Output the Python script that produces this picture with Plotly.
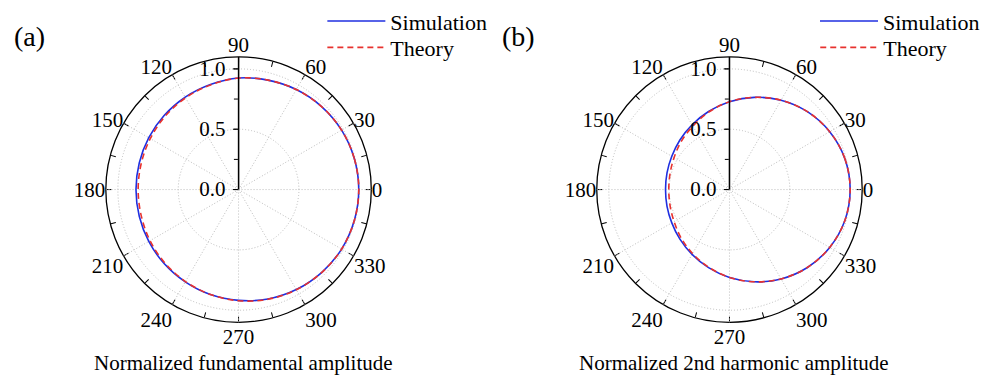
import plotly.graph_objects as go

# ---------------- data ----------------
theta = [0, 15, 30, 45, 60, 75, 90, 105, 120, 135, 150, 165, 180,
         195, 210, 225, 240, 255, 270, 285, 300, 315, 330, 345, 360]

fund_sim = [0.996, 0.993, 0.986, 0.973, 0.957, 0.939, 0.925, 0.901, 0.884, 0.870, 0.859, 0.852, 0.850,
            0.852, 0.859, 0.870, 0.884, 0.901, 0.918, 0.939, 0.957, 0.973, 0.986, 0.993, 0.996]
fund_theory = [0.996, 0.993, 0.986, 0.973, 0.957, 0.939, 0.924, 0.898, 0.878, 0.860, 0.845, 0.835, 0.832,
               0.835, 0.847, 0.862, 0.880, 0.900, 0.921, 0.941, 0.958, 0.973, 0.986, 0.993, 0.996]

harm_sim = [1.000, 0.990, 0.959, 0.913, 0.855, 0.791, 0.728, 0.670, 0.620, 0.581, 0.552, 0.536, 0.530,
            0.536, 0.552, 0.581, 0.620, 0.670, 0.728, 0.791, 0.855, 0.913, 0.959, 0.990, 1.000]
harm_theory = [1.000, 0.990, 0.959, 0.913, 0.855, 0.791, 0.728, 0.665, 0.607, 0.565, 0.530, 0.510, 0.503,
               0.510, 0.530, 0.567, 0.612, 0.666, 0.728, 0.791, 0.855, 0.913, 0.959, 0.990, 1.000]

angle_major = [0, 30, 60, 90, 120, 150, 180, 210, 240, 270, 300, 330]
angle_minor = [0, 15, 30, 45, 60, 75, 90, 105, 120, 135, 150, 165, 180,
               195, 210, 225, 240, 255, 270, 285, 300, 315, 330, 345]
radial_major = [0.0, 0.5, 1.0]
radial_labels = ["0.0", "0.5", "1.0"]
radial_minor = [0.0, 0.25, 0.5, 0.75, 1.0]
r_max = 1.1

series_names = ["Simulation", "Theory"]
panel_titles = ["Normalized fundamental amplitude", "Normalized 2nd harmonic amplitude"]
panel_tags = ["(a)", "(b)"]

FONT = "Liberation Serif"
BLUE = "#1f2fe0"
RED = "#e8322e"
GRID = "#bdbdbd"

fig = go.Figure()

# tick-only underlay subplots (polar, polar2), data subplots (polar3, polar4)
for sp in ["polar", "polar2"]:
    fig.add_trace(go.Scatterpolar(r=[], theta=[], subplot=sp, showlegend=False, hoverinfo="skip"))

fig.add_trace(go.Scatterpolar(r=fund_sim, theta=theta, subplot="polar3", mode="lines",
                              line=dict(color=BLUE, width=1.6, shape="spline"),
                              name=series_names[0], legend="legend"))
fig.add_trace(go.Scatterpolar(r=fund_theory, theta=theta, subplot="polar3", mode="lines",
                              line=dict(color=RED, width=1.6, dash="6px,4px", shape="spline"),
                              name=series_names[1], legend="legend3"))
fig.add_trace(go.Scatterpolar(r=harm_sim, theta=theta, subplot="polar4", mode="lines",
                              line=dict(color=BLUE, width=1.6, shape="spline"),
                              name=series_names[0], legend="legend2"))
fig.add_trace(go.Scatterpolar(r=harm_theory, theta=theta, subplot="polar4", mode="lines",
                              line=dict(color=RED, width=1.6, dash="6px,4px", shape="spline"),
                              name=series_names[1], legend="legend4"))

half = 136
cy = 185
ydom = [1 - (cy + half) / 376, 1 - (cy - half) / 376]
centers_x = [242, 740]
xdoms = [[(c - half) / 985, (c + half) / 985] for c in centers_x]

def under_polar(xd):
    return dict(
        domain=dict(x=xd, y=ydom),
        bgcolor="white",
        angularaxis=dict(tickvals=angle_minor, showticklabels=False, ticks="inside", ticklen=5,
                         tickcolor="black", showgrid=False, showline=True, linecolor="black",
                         linewidth=1.3, rotation=0, direction="counterclockwise"),
        radialaxis=dict(range=[0, r_max], angle=90, tickvals=radial_minor, showticklabels=False,
                        ticks="outside", ticklen=4, tickcolor="black", showgrid=False,
                        showline=True, linecolor="black", linewidth=1.3, side="counterclockwise"),
    )

def main_polar(xd):
    return dict(
        domain=dict(x=xd, y=ydom),
        bgcolor="rgba(0,0,0,0)",
        angularaxis=dict(tickvals=angle_major, ticktext=[str(a) for a in angle_major],
                         ticks="",
                         showgrid=True, gridcolor=GRID, griddash="1px,2px", gridwidth=1,
                         showline=False, rotation=0, direction="counterclockwise",
                         tickfont=dict(family=FONT, size=21, color="black")),
        radialaxis=dict(range=[0, r_max], angle=90, tickvals=radial_major, ticktext=radial_labels,
                        ticks="outside", ticklen=5, tickcolor="black", showgrid=True,
                        gridcolor=GRID, griddash="1px,2px", gridwidth=1, showline=True,
                        linecolor="black", linewidth=1.3, side="counterclockwise", tickangle=90,
                        tickfont=dict(family=FONT, size=21, color="black")),
    )

legend_common = dict(font=dict(family=FONT, size=22, color="black"), bgcolor="rgba(0,0,0,0)",
                     tracegroupgap=0, itemwidth=58, yanchor="top", xanchor="left")

fig.update_layout(
    width=985, height=376,
    margin=dict(l=0, r=0, t=0, b=0),
    paper_bgcolor="white", plot_bgcolor="white",
    polar=under_polar(xdoms[0]),
    polar2=under_polar(xdoms[1]),
    polar3=main_polar(xdoms[0]),
    polar4=main_polar(xdoms[1]),
    legend=dict(x=327 / 985, y=1 + 9 / 376, **legend_common),
    legend3=dict(x=327 / 985, y=1 - 18 / 376, **legend_common),
    legend2=dict(x=827 / 985, y=1 + 9 / 376, **legend_common),
    legend4=dict(x=827 / 985, y=1 - 18 / 376, **legend_common),
    showlegend=True,
)

for i, c in enumerate(centers_x):
    fig.add_annotation(text=panel_titles[i], x=(c + 5) / 985, y=13 / 376, xref="paper", yref="paper",
                       showarrow=False, font=dict(family=FONT, size=21, color="black"),
                       xanchor="center", yanchor="middle", borderpad=0)
fig.add_annotation(text=panel_tags[0], x=12 / 985, y=1 - 28 / 376, xref="paper", yref="paper",
                   showarrow=False, font=dict(family=FONT, size=28, color="black"),
                   xanchor="left", yanchor="middle")
fig.add_annotation(text=panel_tags[1], x=507 / 985, y=1 - 28 / 376, xref="paper", yref="paper",
                   showarrow=False, font=dict(family=FONT, size=28, color="black"),
                   xanchor="left", yanchor="middle")

fig.write_html("out.html")
